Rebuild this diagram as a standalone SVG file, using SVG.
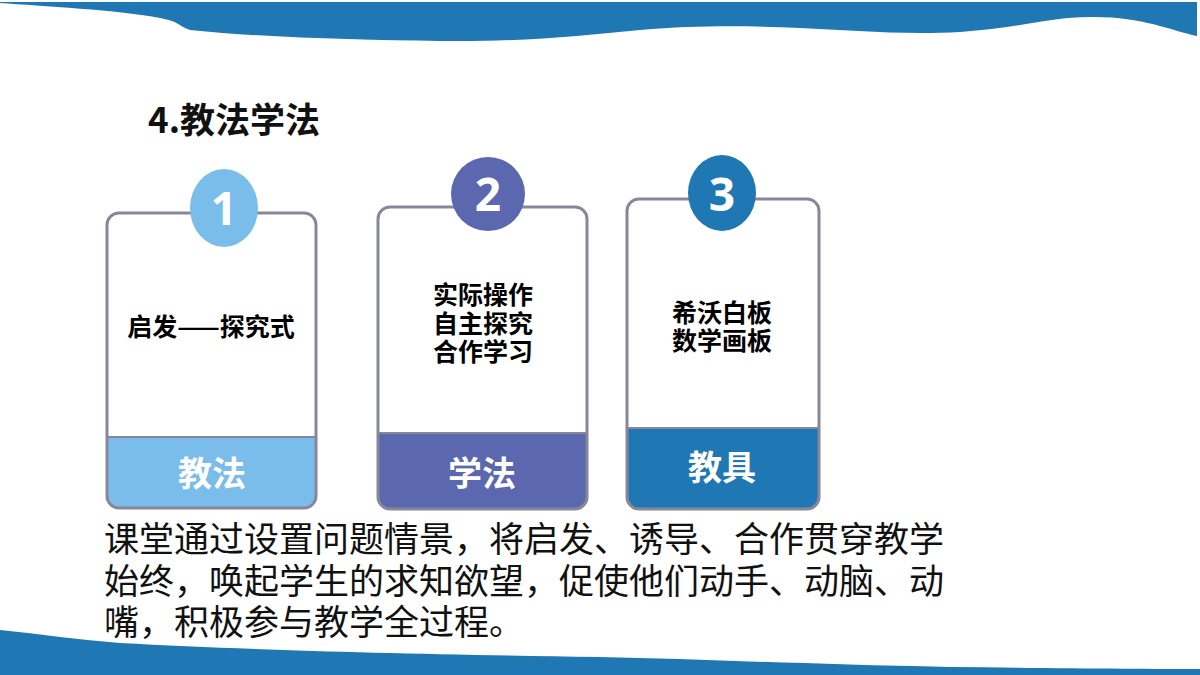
<svg xmlns="http://www.w3.org/2000/svg" width="1200" height="675" viewBox="0 0 1200 675">
  <style>
    .cjk { font-family: "Noto Sans CJK SC", "Noto Sans", sans-serif; }
    .body { font-size: 35px; fill: #111; }
    .item { font-size: 25px; font-weight: bold; fill: #000; text-anchor: middle; }
    .label { font-size: 34px; font-weight: bold; fill: #fff; text-anchor: middle; }
    .num { font-size: 46px; font-weight: bold; fill: #fff; text-anchor: middle; font-family: "Open Sans", "Noto Sans", sans-serif; }
    .outline { fill: none; stroke: #878799; stroke-width: 3; }
    .wave { fill: #1F78B4; }
  </style>
  <rect width="1200" height="675" fill="#fff"/>
  <g id="waves">
    <path class="wave" d="M0,2 H1197 V36 C1170,30 1140,16 1090,17 C1050,17 1020,28 960,32 C900,35 850,30 800,28 C750,26 700,25 640,30 C580,36 520,42 440,41 C360,40 270,38 190,30 C175,24 180,22 160,18 C120,10 40,6 0,3 Z"/>
    <path class="wave" d="M0,630 C40,634 80,640 120,643 C250,650 400,654 600,657 C700,659 800,664 950,667 C1050,668 1150,669 1200,669 V675 H0 Z"/>
  </g>
  <g id="title">
    <text class="cjk" x="148" y="133" font-size="35" font-weight="bold" fill="#111">4.教法学法</text>
  </g>
  <g id="card1">
    <rect x="107" y="213" width="209" height="295" rx="12" fill="#fff"/>
    <path d="M107,437 H316 V496 A12,12 0 0 1 304,508 H119 A12,12 0 0 1 107,496 Z" fill="#7ABDEA"/>
    <line x1="107" y1="437" x2="316" y2="437" stroke="#878799" stroke-width="2"/>
    <rect class="outline" x="107" y="213" width="209" height="295" rx="12"/>
    <ellipse cx="224" cy="208" rx="34" ry="39" fill="#7ABDEA"/>
    <text class="num" x="224" y="225">1</text>
    <text class="cjk item" x="211" y="336">启发——探究式</text>
    <text class="cjk label" x="212" y="486">教法</text>
  </g>
  <g id="card2">
    <rect x="378" y="207" width="209" height="302" rx="12" fill="#fff"/>
    <path d="M378,433 H587 V497 A12,12 0 0 1 575,509 H390 A12,12 0 0 1 378,497 Z" fill="#5B67AE"/>
    <line x1="378" y1="433" x2="587" y2="433" stroke="#878799" stroke-width="2"/>
    <rect class="outline" x="378" y="207" width="209" height="302" rx="12"/>
    <ellipse cx="488" cy="194" rx="37" ry="37" fill="#5B67AE"/>
    <text class="num" x="488" y="211">2</text>
    <text class="cjk item" x="483" y="304">实际操作</text>
    <text class="cjk item" x="483" y="333">自主探究</text>
    <text class="cjk item" x="483" y="361">合作学习</text>
    <text class="cjk label" x="482" y="486">学法</text>
  </g>
  <g id="card3">
    <rect x="627" y="199" width="192" height="310" rx="12" fill="#fff"/>
    <path d="M627,428 H819 V497 A12,12 0 0 1 807,509 H639 A12,12 0 0 1 627,497 Z" fill="#1F78B4"/>
    <line x1="627" y1="428" x2="819" y2="428" stroke="#878799" stroke-width="2"/>
    <rect class="outline" x="627" y="199" width="192" height="310" rx="12"/>
    <ellipse cx="722" cy="193" rx="34" ry="38" fill="#1F78B4"/>
    <text class="num" x="722" y="211">3</text>
    <text class="cjk item" x="722" y="322">希沃白板</text>
    <text class="cjk item" x="722" y="350">数学画板</text>
    <text class="cjk label" x="722" y="480">教具</text>
  </g>
  <g id="paragraph">
    <text class="cjk body" x="104" y="552">课堂通过设置问题情景，将启发、诱导、合作贯穿教学</text>
    <text class="cjk body" x="104" y="594">始终，唤起学生的求知欲望，促使他们动手、动脑、动</text>
    <text class="cjk body" x="104" y="635">嘴，积极参与教学全过程。</text>
  </g>
</svg>
